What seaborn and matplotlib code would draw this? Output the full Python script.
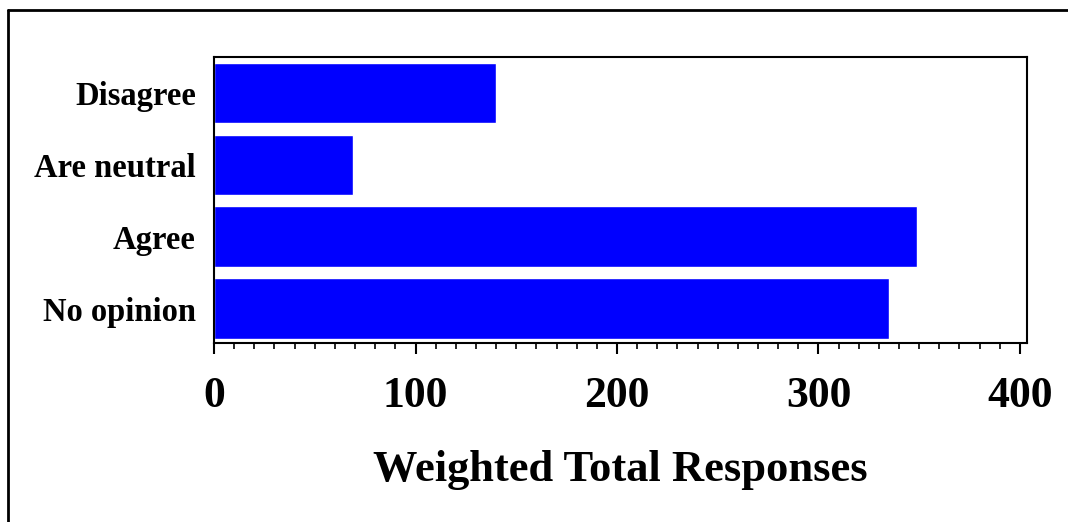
import pandas as pd
import matplotlib.pyplot as plt
from matplotlib.lines import Line2D
from matplotlib.ticker import MultipleLocator
import seaborn as sns

# ============================================================
# Data
# ============================================================
categories = ['Disagree', 'Are neutral', 'Agree', 'No opinion']
responses = [140, 69, 349, 335]

df = pd.DataFrame({'category': categories, 'responses': responses})

# ============================================================
# Style
# ============================================================
sns.set_style('white')
plt.rcParams['font.family'] = ['Liberation Serif', 'DejaVu Serif']
plt.rcParams['font.weight'] = 'bold'
plt.rcParams['text.color'] = 'black'
plt.rcParams['axes.labelcolor'] = 'black'
plt.rcParams['xtick.color'] = 'black'
plt.rcParams['ytick.color'] = 'black'

fig = plt.figure(figsize=(10.68, 5.22), dpi=100)
ax = fig.add_axes([0.2004, 0.3429, 0.7612, 0.5479])

sns.barplot(data=df, x='responses', y='category', orient='h',
            color='#0000FF', saturation=1, width=0.84, ax=ax)

ax.set_xlim(0, 403.5)
ax.set_ylim(3.48, -0.5)
ax.xaxis.set_major_locator(MultipleLocator(100))
ax.xaxis.set_minor_locator(MultipleLocator(10))
ax.tick_params(axis='x', which='major', length=8, width=1.5, direction='out',
               bottom=True, labelsize=31.5, pad=16, color='black', labelcolor='black')
ax.tick_params(axis='x', which='minor', length=4, width=1.2, direction='out',
               bottom=True, color='black')
ax.tick_params(axis='y', length=0, labelsize=23.5, pad=13, labelcolor='black')
for lbl in ax.get_xticklabels() + ax.get_yticklabels():
    lbl.set_fontweight('bold')

for side in ['left', 'right', 'top', 'bottom']:
    ax.spines[side].set_visible(True)
    ax.spines[side].set_color('black')
    ax.spines[side].set_linewidth(1.5)

ax.set_ylabel('')
ax.set_xlabel('Weighted Total Responses', fontsize=32, fontweight='bold',
              labelpad=24, color='black')

# frame lines (left and top only)
fig.add_artist(Line2D([8 / 1068, 8 / 1068], [0, 1 - 10 / 522], transform=fig.transFigure,
                      color='black', lw=2))
fig.add_artist(Line2D([8 / 1068, 1], [1 - 10 / 522, 1 - 10 / 522], transform=fig.transFigure,
                      color='black', lw=2))

fig.savefig('out.png', dpi=100, facecolor='white')
